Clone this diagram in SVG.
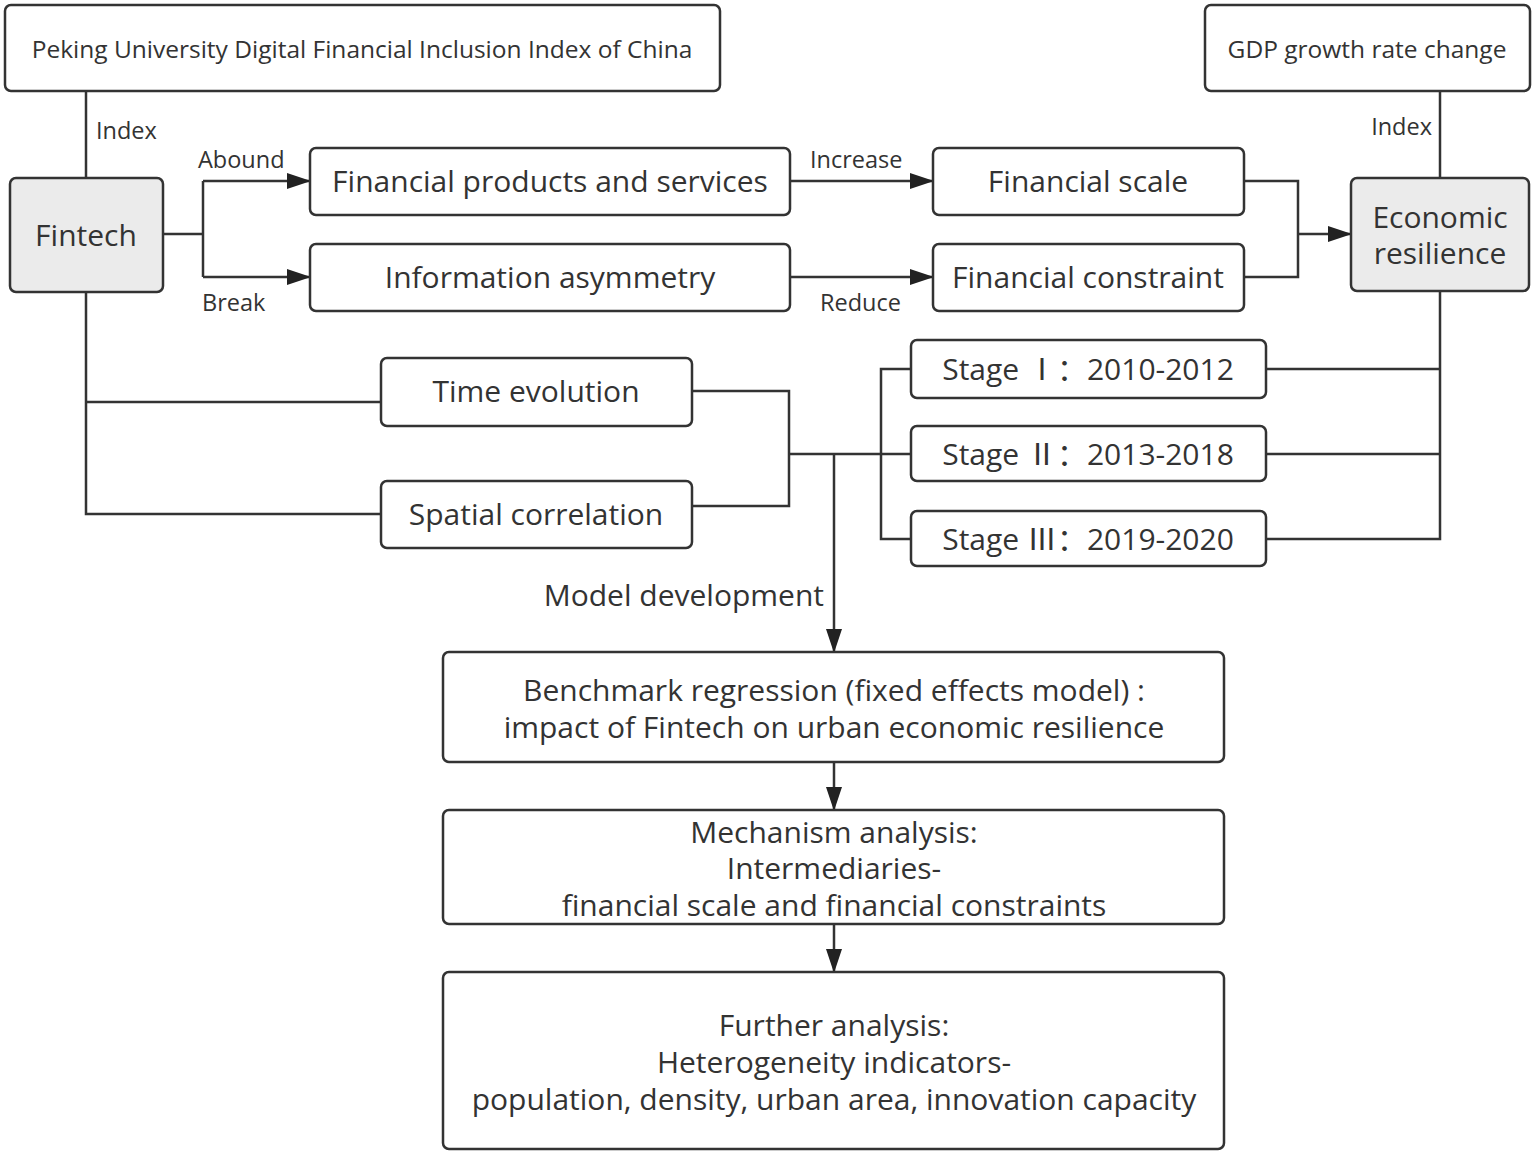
<svg xmlns="http://www.w3.org/2000/svg" width="1535" height="1155" viewBox="0 0 1535 1155">
<style>
.box{fill:#fff;stroke:#333;stroke-width:2.5}
.grey{fill:#ebebeb;stroke:#333;stroke-width:2.5}
.ln{fill:none;stroke:#333;stroke-width:2.5}
text{font-family:"Open Sans","Noto Sans CJK SC",sans-serif;fill:#333;text-anchor:middle}
.t{font-size:30px}
.s{font-size:24.5px}
.sl{font-size:23.5px;text-anchor:start}
.se{font-size:23.5px;text-anchor:end}
</style>
<defs>
<marker id="ahb" markerWidth="24" markerHeight="16" refX="23" refY="8" orient="auto" markerUnits="userSpaceOnUse" viewBox="0 0 24 16">
<path d="M0,0 L24,8 L0,16 Z" fill="#222"/>
</marker>
</defs>
<g id="connectors">
<path class="ln" d="M86,91 V178"/>
<path class="ln" d="M1440,91 V178"/>
<path class="ln" d="M163,234 H203"/>
<path class="ln" d="M203,181 V277"/>
<path class="ln" d="M203,181 H310" marker-end="url(#ahb)"/>
<path class="ln" d="M203,277 H310" marker-end="url(#ahb)"/>
<path class="ln" d="M790,181 H933" marker-end="url(#ahb)"/>
<path class="ln" d="M790,277 H933" marker-end="url(#ahb)"/>
<path class="ln" d="M1244,181 H1298 V277 H1244"/>
<path class="ln" d="M1298,234 H1351" marker-end="url(#ahb)"/>
<path class="ln" d="M1440,291 V539 H1266"/>
<path class="ln" d="M1440,369 H1266"/>
<path class="ln" d="M1440,454 H1266"/>
<path class="ln" d="M911,369 H881 V539 H911"/>
<path class="ln" d="M86,292 V514 H381"/>
<path class="ln" d="M86,402 H381"/>
<path class="ln" d="M692,391 H789 V506 H692"/>
<path class="ln" d="M789,454 H911"/>
<path class="ln" d="M834,454 V652" marker-end="url(#ahb)"/>
<path class="ln" d="M834,762 V810" marker-end="url(#ahb)"/>
<path class="ln" d="M834,924 V972" marker-end="url(#ahb)"/>
<text class="sl" x="96" y="139">Index</text>
<text class="se" x="1432" y="135">Index</text>
<text class="sl" x="198" y="168">Abound</text>
<text class="sl" x="202" y="311">Break</text>
<text class="sl" x="810" y="168">Increase</text>
<text class="sl" x="820" y="311">Reduce</text>
<text class="t" x="824" y="606" style="text-anchor:end">Model development</text>
</g>
<g id="pku"><rect class="box" x="5" y="5" width="715" height="86" rx="6"/><text class="s" x="362" y="58">Peking University Digital Financial Inclusion Index of China</text></g>
<g id="gdp"><rect class="box" x="1205" y="5" width="325" height="86" rx="6"/><text class="s" x="1367" y="58">GDP growth rate change</text></g>
<g id="fintech"><rect class="grey" x="10" y="178" width="153" height="114" rx="6"/><text class="t" x="86" y="246">Fintech</text></g>
<g id="products"><rect class="box" x="310" y="148" width="480" height="67" rx="6"/><text class="t" x="550" y="192">Financial products and services</text></g>
<g id="asym"><rect class="box" x="310" y="244" width="480" height="67" rx="6"/><text class="t" x="550" y="288">Information asymmetry</text></g>
<g id="scale"><rect class="box" x="933" y="148" width="311" height="67" rx="6"/><text class="t" x="1088" y="192">Financial scale</text></g>
<g id="constraint"><rect class="box" x="933" y="244" width="311" height="67" rx="6"/><text class="t" x="1088" y="288">Financial constraint</text></g>
<g id="resilience"><rect class="grey" x="1351" y="178" width="178" height="113" rx="6"/><text class="t" x="1440" y="228">Economic</text><text class="t" x="1440" y="264">resilience</text></g>
<g id="time"><rect class="box" x="381" y="358" width="311" height="68" rx="6"/><text class="t" x="536" y="402">Time evolution</text></g>
<g id="spatial"><rect class="box" x="381" y="481" width="311" height="67" rx="6"/><text class="t" x="536" y="525">Spatial correlation</text></g>
<g id="stage1"><rect class="box" x="911" y="340" width="355" height="58" rx="6"/><text class="t" x="1088" y="380">Stage Ⅰ：2010-2012</text></g>
<g id="stage2"><rect class="box" x="911" y="426" width="355" height="55" rx="6"/><text class="t" x="1088" y="465">Stage Ⅱ：2013-2018</text></g>
<g id="stage3"><rect class="box" x="911" y="511" width="355" height="55" rx="6"/><text class="t" x="1088" y="550">Stage Ⅲ：2019-2020</text></g>
<g id="benchmark"><rect class="box" x="443" y="652" width="781" height="110" rx="6"/><text class="t" x="834" y="701">Benchmark regression (fixed effects model) :</text><text class="t" x="834" y="738">impact of Fintech on urban economic resilience</text></g>
<g id="mechanism"><rect class="box" x="443" y="810" width="781" height="114" rx="6"/><text class="t" x="834" y="843">Mechanism analysis:</text><text class="t" x="834" y="879">Intermediaries-</text><text class="t" x="834" y="916">financial scale and financial constraints</text></g>
<g id="further"><rect class="box" x="443" y="972" width="781" height="177" rx="6"/><text class="t" x="834" y="1036">Further analysis:</text><text class="t" x="834" y="1073">Heterogeneity indicators-</text><text class="t" x="834" y="1110">population, density, urban area, innovation capacity</text></g>
</svg>
